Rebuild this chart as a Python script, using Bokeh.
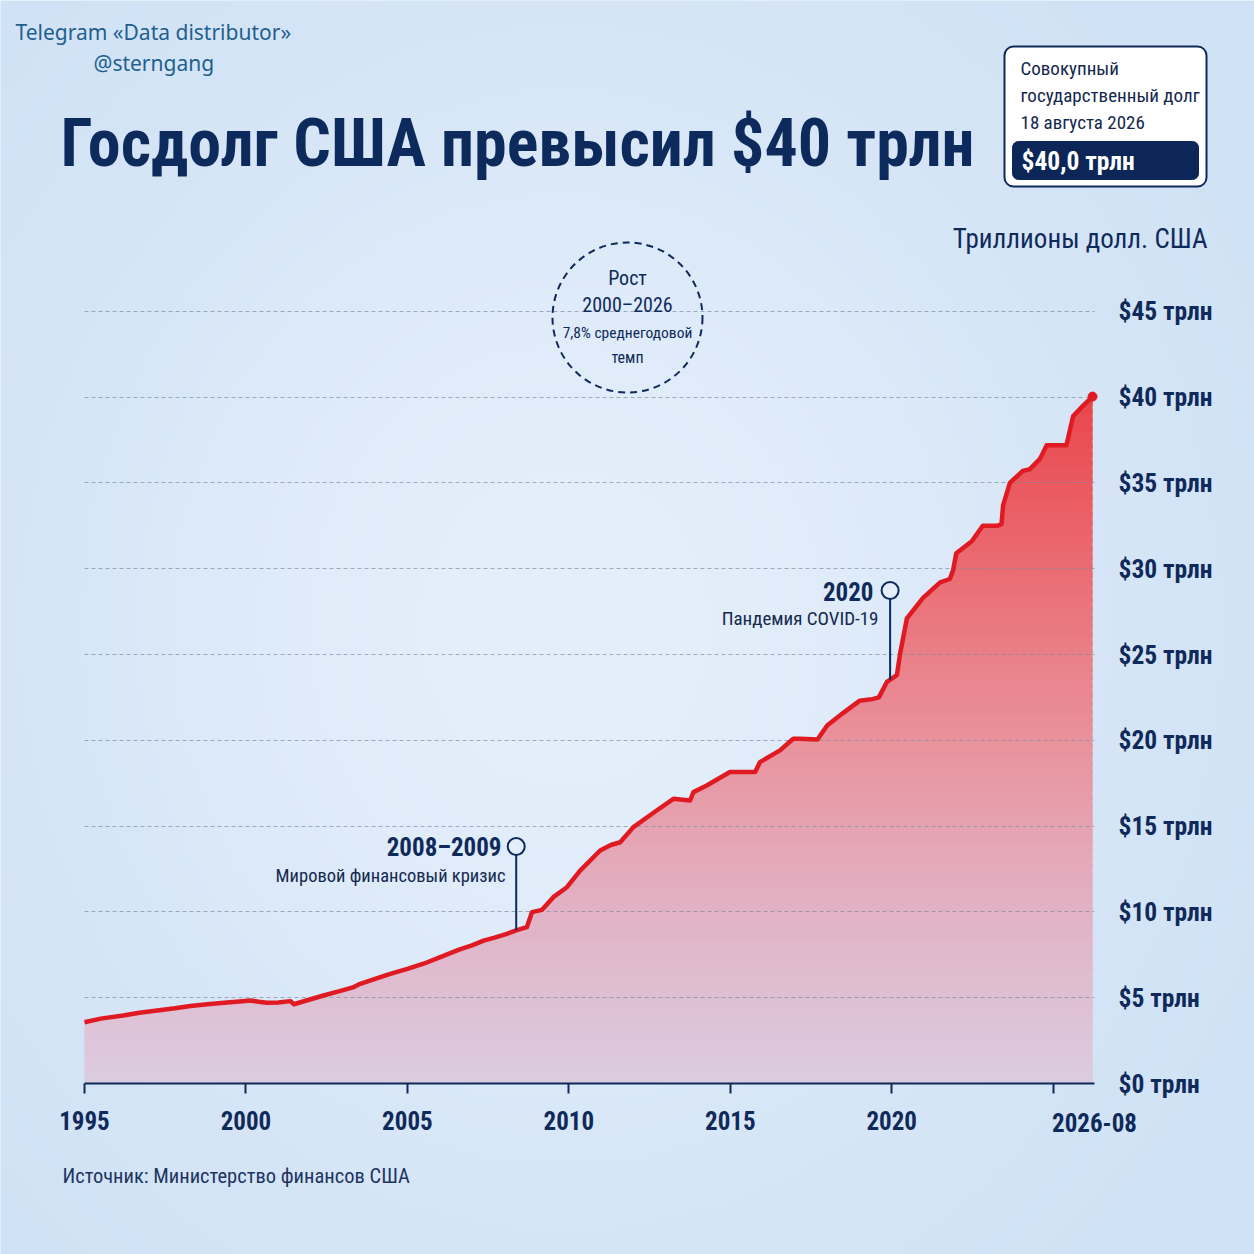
import subprocess
import numpy as np
from bokeh.plotting import figure
from bokeh.models import Range1d, FixedTicker, Label, BoxAnnotation
from bokeh.embed import file_html
from bokeh.resources import INLINE

# ---------------- data ----------------
years = [1995.0, 1995.5, 1996.2, 1996.7, 1997.25, 1997.8, 1998.28, 1998.8, 1999.41, 1999.8,
         2000.14, 2000.4, 2000.65, 2001.0, 2001.38, 2001.48, 2001.9, 2002.4, 2002.9, 2003.34,
         2003.54, 2004.0, 2004.47, 2005.0, 2005.5, 2006.02, 2006.6, 2007.0, 2007.36, 2007.7,
         2008.08, 2008.37, 2008.7, 2008.86, 2009.17, 2009.52, 2009.94, 2010.35, 2010.97, 2011.3,
         2011.59, 2012.0, 2012.72, 2013.24, 2013.75, 2013.86, 2014.27, 2014.99, 2015.77, 2015.92,
         2016.54, 2016.95, 2017.16, 2017.7, 2018.0, 2018.5, 2019.0, 2019.4, 2019.6, 2019.85,
         2020.16, 2020.26, 2020.47, 2020.97, 2021.5, 2021.8, 2021.9, 2022.0, 2022.48, 2022.82,
         2023.26, 2023.4, 2023.45, 2023.66, 2024.06, 2024.28, 2024.59, 2024.8, 2025.41, 2025.62,
         2025.93, 2026.22]
debt = [3.57, 3.78, 3.96, 4.12, 4.25, 4.38, 4.52, 4.62, 4.72, 4.78,
        4.84, 4.76, 4.70, 4.72, 4.80, 4.62, 4.85, 5.13, 5.38, 5.62,
        5.81, 6.10, 6.39, 6.68, 6.98, 7.36, 7.80, 8.05, 8.33, 8.50,
        8.72, 8.92, 9.11, 9.99, 10.12, 10.86, 11.44, 12.41, 13.58, 13.90,
        14.06, 14.94, 15.91, 16.59, 16.49, 16.98, 17.37, 18.15, 18.15, 18.73,
        19.41, 20.09, 20.09, 20.05, 20.86, 21.60, 22.30, 22.40, 22.50, 23.40,
        23.80, 25.06, 27.10, 28.30, 29.20, 29.40, 29.90, 30.90, 31.60, 32.50,
        32.50, 32.60, 33.70, 35.00, 35.70, 35.80, 36.40, 37.20, 37.20, 38.90,
        39.50, 40.03]

x_ticks = [1995, 2000, 2005, 2010, 2015, 2020, 2025]
x_tick_labels = ["1995", "2000", "2005", "2010", "2015", "2020", ""]
end_tick_label = "2026-08"
y_ticks = [0, 5, 10, 15, 20, 25, 30, 35, 40, 45]
y_tick_labels = ["$0 трлн", "$5 трлн", "$10 трлн", "$15 трлн", "$20 трлн",
                 "$25 трлн", "$30 трлн", "$35 трлн", "$40 трлн", "$45 трлн"]

event_years = [2008.37, 2019.95]
event_titles = ["2008–2009", "2020"]
event_notes = ["Мировой финансовый кризис", "Пандемия COVID-19"]

title = "Госдолг США превысил $40 трлн"
unit_label = "Триллионы долл. США"
source = "Источник: Министерство финансов США"
badge_lines = ["Совокупный", "государственный долг", "18 августа 2026"]
badge_value = "$40,0 трлн"
growth_lines = ["Рост", "2000–2026", "7,8% среднегодовой", "темп"]

# ---------------- font choice (narrow face if installed) ----------------
try:
    fams = subprocess.run(["fc-list", ":", "family"], capture_output=True,
                          text=True, timeout=20).stdout.lower()
except Exception:
    fams = ""
NARROW, FS = "'DejaVu Sans Condensed', sans-serif", 0.78
for name, scale in [("Roboto Condensed", 1.0), ("Liberation Sans Narrow", 0.97),
                    ("Noto Sans Condensed", 0.93), ("Open Sans Condensed", 0.95)]:
    if name.lower() in fams:
        NARROW, FS = f"'{name}', sans-serif", scale
        break
SANS = "'Noto Sans', 'Open Sans', sans-serif"

def fs(size):
    return f"{round(size * FS, 1)}px"

# ---------------- layout helpers (page pixel -> data) ----------------
W = H = 1254
XS = years[0]
XE = 2026.28
PX0, PX1 = 84, 1094          # page x of XS and XE
PY0, SY = 1083, 17.16         # page y of 0 and px per trillion
SX = (PX1 - PX0) / (XE - XS)

def X(px):
    return XS + (px - PX0) / SX

def Y(py):
    return (PY0 - py) / SY

NAVY = "#0f2a5a"
TXT = "#14294f"
BG = "#d9e9f8"

p = figure(width=W, height=H, output_backend="svg", toolbar_location=None,
           x_range=Range1d(X(0), X(W)), y_range=Range1d(Y(H), Y(0)),
           y_axis_location="right", min_border=0)
p.title.visible = False
p.background_fill_color = BG
p.border_fill_color = BG
p.outline_line_color = None

# soft background glow
ny, nx = 200, 200
gy, gx = np.mgrid[0:ny, 0:nx]
u = gx / (nx - 1) - 0.45
v = gy / (ny - 1) - 0.5
f = np.exp(-(u ** 2 / 0.18 + v ** 2 / 0.22))
edge = np.array([206, 225, 245])
cen = np.array([229, 239, 251])
rgb = edge[None, None, :] * (1 - f[..., None]) + cen[None, None, :] * f[..., None]
img = np.empty((ny, nx), dtype=np.uint32)
view = img.view(dtype=np.uint8).reshape((ny, nx, 4))
view[..., 0] = rgb[..., 0]
view[..., 1] = rgb[..., 1]
view[..., 2] = rgb[..., 2]
view[..., 3] = 255
bgimg = p.image_rgba(image=[img[::-1]], x=X(0), y=Y(H), dw=X(W) - X(0), dh=Y(0) - Y(H))
bgimg.level = "image"

# ---------------- gradient area ----------------
yrs = np.array(years)
vals = np.array(debt)
stops_v = [0, 10, 20, 30, 40]
stops_c = [(219, 204, 224), (226, 178, 197), (233, 146, 156), (235, 108, 115), (232, 70, 76)]
step = 0.5
nb = int(np.ceil(vals.max() / step))
for i in range(nb):
    lo, hi = i * step, (i + 1) * step
    mid = (lo + hi) / 2
    c = [int(round(np.interp(mid, stops_v, [s[k] for s in stops_c]))) for k in range(3)]
    r = p.varea(x=yrs, y1=np.minimum(vals, lo), y2=np.minimum(vals, hi + step * 0.6),
                fill_color="#%02x%02x%02x" % tuple(c), fill_alpha=1)
    r.level = "image"

# line + end dot
p.line(yrs, vals, line_color="#e01a22", line_width=4.5, line_join="round")
p.scatter([yrs[-1]], [vals[-1]], size=9, color="#e01a22")

# ---------------- axes / grid ----------------
xa = p.xaxis[0]
xa.fixed_location = 0
xa.bounds = (XS, XE)
xa.ticker = FixedTicker(ticks=x_ticks)
xa.major_label_overrides = {t: l for t, l in zip(x_ticks, x_tick_labels)}
xa.axis_line_color = NAVY
xa.axis_line_width = 2
xa.major_tick_line_color = NAVY
xa.major_tick_line_width = 2
xa.major_tick_out = 10
xa.major_tick_in = 0
xa.minor_tick_line_color = None
xa.major_label_standoff = 17
xa.major_label_text_font = NARROW
xa.major_label_text_font_style = "bold"
xa.major_label_text_font_size = fs(25)
xa.major_label_text_color = NAVY

ya = p.yaxis[0]
ya.fixed_location = XE
ya.ticker = FixedTicker(ticks=y_ticks)
ya.major_label_overrides = {t: l for t, l in zip(y_ticks, y_tick_labels)}
ya.axis_line_color = None
ya.major_tick_line_color = None
ya.minor_tick_line_color = None
ya.major_label_standoff = 18
ya.major_label_text_font = NARROW
ya.major_label_text_font_style = "bold"
ya.major_label_text_font_size = fs(25.5)
ya.major_label_text_color = NAVY

p.xgrid.grid_line_color = None
yg = p.ygrid[0]
yg.ticker = FixedTicker(ticks=y_ticks[1:])
if "cross_bounds" in yg.properties():
    yg.cross_bounds = (XS, XE)
    yg.grid_line_color = "#7d8da3"
    yg.grid_line_alpha = 0.7
    yg.grid_line_dash = "4 3"
    yg.grid_line_width = 1
else:
    yg.grid_line_color = None
    gl = p.segment(x0=[XS] * len(y_ticks[1:]), y0=y_ticks[1:], x1=[XE] * len(y_ticks[1:]),
                   y1=y_ticks[1:], line_color="#7d8da3", line_alpha=0.7, line_dash="4 3")
    gl.level = "underlay"

# ---------------- event markers ----------------
circle_py = [846, 590]
for ey, cpy in zip(event_years, circle_py):
    base = float(np.interp(ey, yrs, vals))
    p.segment(x0=[ey], y0=[base], x1=[ey], y1=[Y(cpy)], line_color=NAVY, line_width=2)
    p.scatter([ey], [Y(cpy)], size=17, fill_color="#e4eefa", line_color=NAVY, line_width=2)

# dashed growth circle
p.scatter([X(627)], [Y(317)], size=150, fill_color=None, line_color=NAVY,
          line_width=2, line_dash="7 5")

def lab(text, px, py, size, align="left", style="normal", color=TXT, font=None):
    p.add_layout(Label(x=X(px), y=Y(py), text=text, text_font=font or NARROW,
                       text_font_size=(f"{size}px" if font else fs(size)),
                       text_font_style=style, text_color=color,
                       text_align=align, text_baseline="middle"))

# event texts
lab(event_titles[0], 501, 847, 25, "right", "bold", NAVY)
lab(event_notes[0], 505, 875, 18.5, "right")
lab(event_titles[1], 873, 591, 25, "right", "bold", NAVY)
lab(event_notes[1], 878, 618, 19, "right")

# growth texts
lab(growth_lines[0], 627, 277, 20, "center", "normal", NAVY)
lab(growth_lines[1], 627, 304, 20, "center", "normal", NAVY)
lab(growth_lines[2], 627, 332, 15.5, "center", "normal", NAVY)
lab(growth_lines[3], 627, 357, 16, "center", "normal", NAVY)

# end x label
p.add_layout(Label(x=XE, y=Y(1122), text=end_tick_label, text_font=NARROW,
                   text_font_size=fs(25), text_font_style="bold", text_color=NAVY,
                   text_align="center", text_baseline="middle"))

# header texts
lab("Telegram «Data distributor»", 15, 31, 21, "left", "normal", "#1f5f8e", SANS)
lab("@sterngang", 93, 62, 21, "left", "normal", "#1f5f8e", SANS)
lab(title, 60, 143, 66, "left", "bold", "#0d2a5c")
lab(unit_label, 1207, 238, 27, "right", "normal", NAVY)
lab(source, 62, 1175, 20.5, "left", "normal", "#1d3461")

# badge
p.add_layout(BoxAnnotation(left=X(1004), right=X(1206), top=Y(46), bottom=Y(186),
                           fill_color="white", fill_alpha=1, line_color=NAVY,
                           line_alpha=1, line_width=2, border_radius=9))
p.add_layout(BoxAnnotation(left=X(1012), right=X(1198), top=Y(141), bottom=Y(179),
                           fill_color="#0c2657", fill_alpha=1, line_color="#0c2657",
                           line_alpha=1, line_width=1, border_radius=6))
for t, py in zip(badge_lines, [68, 95, 122]):
    lab(t, 1020, py, 19, "left", "normal", "#14284d")
lab(badge_value, 1021, 160, 25.5, "left", "bold", "white")

open("out.html", "w").write(file_html(p, INLINE))
